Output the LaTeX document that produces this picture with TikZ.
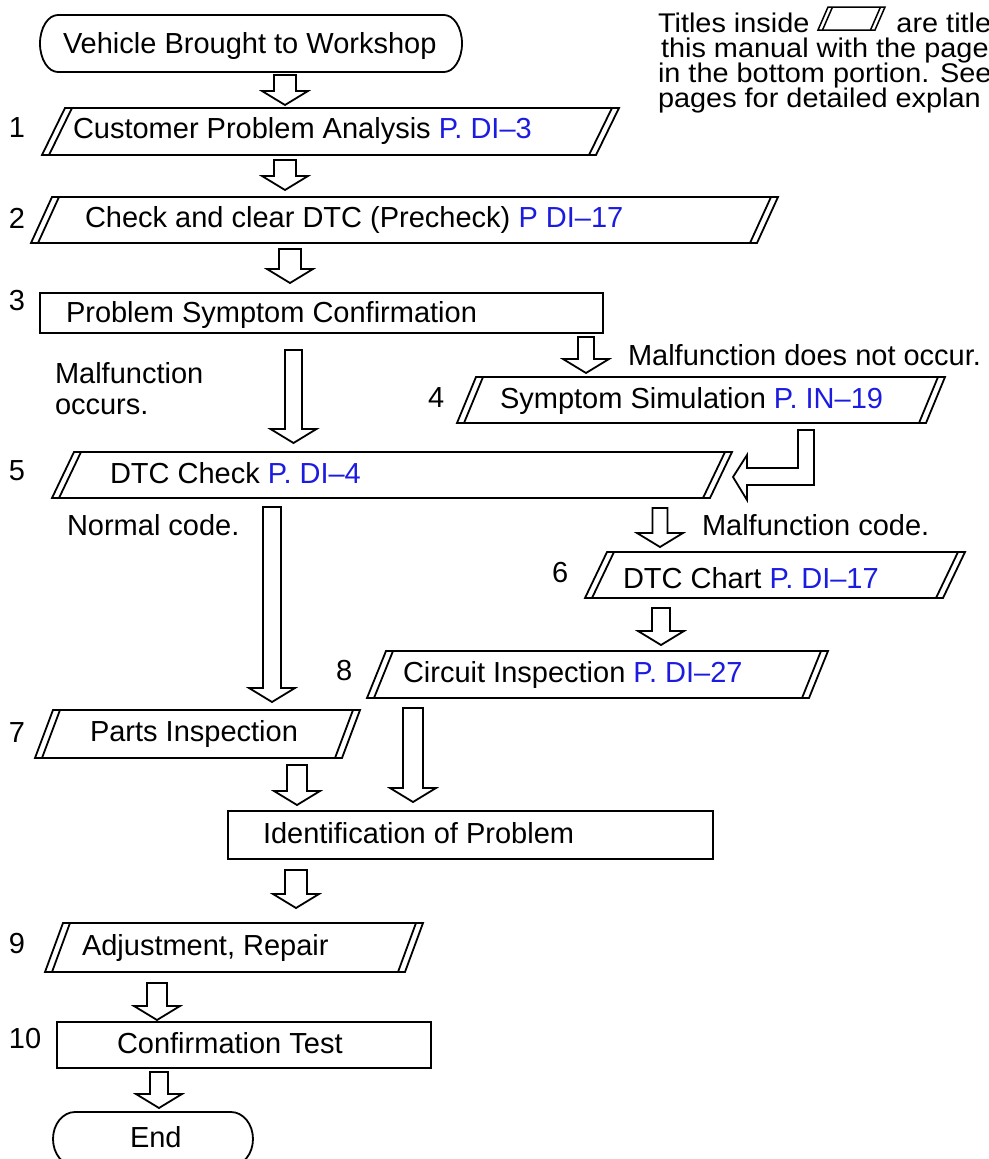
\documentclass[tikz,border=0pt]{standalone}
\usepackage{fontspec}
\setmainfont{Liberation Sans}
\newfontfamily\notefamily[FakeStretch=1.07]{Liberation Sans}
\usetikzlibrary{calc}
\definecolor{refblue}{RGB}{28,28,225}

% font for the corner note: slightly smaller, wider letters, fixed 25pt line pitch
\newcommand\notesetup{\notefamily\fontsize{27}{25}\selectfont\setlength{\lineskiplimit}{-50pt}}

\tikzset{
  outline/.style={draw=black, line width=1.8pt, line join=miter},
  frame/.style={inner sep=0pt, outer sep=0pt},
  lbl/.style={inner sep=0pt, outer sep=0pt, anchor=base west, font=\fontsize{29}{34}\selectfont},
  notetext/.style={inner sep=0pt, outer sep=0pt, anchor=north west, align=left, font={\notesetup}},
  blockarrow/.style={draw=black, line width=1.8pt, fill=white, line join=miter},
}

% parallelogram with doubled slanted sides: name, left-bottom x, right-top x, top y, bottom y, slant
\newcommand\slantbox[6]{%
  \pgfmathsetmacro\sbw{#3-#2}\pgfmathsetmacro\sbh{#5-#4}%
  \pgfmathsetmacro\sbx{(#2+#3)/2}\pgfmathsetmacro\sby{(#4+#5)/2}%
  \node[frame, minimum width=\sbw pt, minimum height=\sbh pt] (#1) at (\sbx,\sby) {};
  \draw[outline] (#1.south west) -- ([xshift=#6pt]#1.north west) -- (#1.north east)
     -- ([xshift=-#6pt]#1.south east) -- cycle;
  \draw[outline] ([xshift=7pt]#1.south west) -- ([xshift=#6pt+7pt]#1.north west);
  \draw[outline] ([xshift=-#6pt-7pt]#1.south east) -- ([xshift=-7pt]#1.north east);
}

% plain process box: name, left x, right x, top y, bottom y
\newcommand\rectbox[5]{%
  \pgfmathsetmacro\sbw{#3-#2}\pgfmathsetmacro\sbh{#5-#4}%
  \pgfmathsetmacro\sbx{(#2+#3)/2}\pgfmathsetmacro\sby{(#4+#5)/2}%
  \node[frame, outline, minimum width=\sbw pt, minimum height=\sbh pt] (#1) at (\sbx,\sby) {};
}

% terminal with elliptic ends: name, left x, right x, top y, bottom y, end radius
\newcommand\terminal[6]{%
  \pgfmathsetmacro\sbw{#3-#2}\pgfmathsetmacro\sbh{#5-#4}%
  \pgfmathsetmacro\sbx{(#2+#3)/2}\pgfmathsetmacro\sby{(#4+#5)/2}%
  \pgfmathsetmacro\sbr{(#5-#4)/2}%
  \node[frame, minimum width=\sbw pt, minimum height=\sbh pt] (#1) at (\sbx,\sby) {};
  \draw[outline] let \p1=(#1.north west), \p2=(#1.south east) in
    (\x1+#6pt,\y1) -- (\x2-#6pt,\y1)
    arc[start angle=90, end angle=-90, x radius=#6pt, y radius=\sbr pt]
    -- (\x1+#6pt,\y2)
    arc[start angle=270, end angle=90, x radius=#6pt, y radius=\sbr pt] -- cycle;
}

% hollow downward arrow: from node, to node, x, shaft half width, gap below source, gap above target
\newcommand\blockdown[6]{%
  \draw[blockarrow] let \p1=(#1.south), \p2=(#2.north) in
    (#3pt-#4pt, \y1-#5pt) -- (#3pt-#4pt, \y2+#6pt+14pt) -- (#3pt-23pt, \y2+#6pt+14pt)
    -- (#3pt, \y2+#6pt) -- (#3pt+23pt, \y2+#6pt+14pt) -- (#3pt+#4pt, \y2+#6pt+14pt)
    -- (#3pt+#4pt, \y1-#5pt) -- cycle;
}

\begin{document}
\begin{tikzpicture}[x=1pt, y=-1pt]
\useasboundingbox (0,0) rectangle (988,1159);
\clip (0,0) rectangle (988,1159);

% ---- shapes ----
\terminal{veh}{40}{462}{15}{72}{18}
\slantbox{s1}{42}{619}{108}{155}{23}
\slantbox{s2}{31}{778}{197}{243}{21}
\rectbox{s3}{40}{603}{293}{333}
\slantbox{s4}{457}{945}{377}{423}{19}
\slantbox{s5}{52}{732}{452}{498}{22}
\slantbox{s6}{585}{965}{552}{598}{22}
\slantbox{s8}{367}{828}{651}{698}{19}
\slantbox{s7}{35}{360}{710}{758}{18}
\rectbox{ident}{228}{713}{811}{859}
\slantbox{s9}{45}{423}{923}{972}{18}
\rectbox{s10}{57}{431}{1022}{1068}
\terminal{fin}{53}{253}{1112}{1166}{22}

% ---- texts ----
\node[lbl] (tveh) at (63,53) {Vehicle Brought to Workshop};
\node[lbl] (n1) at (9,137) {1};
\node[lbl] (t1) at (73,138) {Customer Problem Analysis \textcolor{refblue}{P. DI–3}};
\node[lbl] (n2) at (9,228) {2};
\node[lbl] (t2) at (85,227) {Check and clear DTC (Precheck) \textcolor{refblue}{P DI–17}};
\node[lbl] (n3) at (9,310) {3};
\node[lbl] (t3) at (66,322) {Problem Symptom Confirmation};
\node[lbl] (occa) at (55,383) {Malfunction};
\node[lbl] (occb) at (55,414) {occurs.};
\node[lbl] (nocc) at (628,365) {Malfunction does not occur.};
\node[lbl] (n4) at (428,407) {4};
\node[lbl] (t4) at (500,408) {Symptom Simulation \textcolor{refblue}{P. IN–19}};
\node[lbl] (n5) at (9,480) {5};
\node[lbl] (t5) at (110,483) {DTC Check \textcolor{refblue}{P. DI–4}};
\node[lbl] (normal) at (67,535) {Normal code.};
\node[lbl] (malcode) at (702,535) {Malfunction code.};
\node[lbl] (n6) at (552,582) {6};
\node[lbl] (t6) at (623,588) {DTC Chart \textcolor{refblue}{P. DI–17}};
\node[lbl] (n8) at (336,680) {8};
\node[lbl] (t8) at (403,682) {Circuit Inspection \textcolor{refblue}{P. DI–27}};
\node[lbl] (n7) at (9,742) {7};
\node[lbl] (t7) at (90,741) {Parts Inspection};
\node[lbl] (tid) at (263,843) {Identification of Problem};
\node[lbl] (n9) at (9,953) {9};
\node[lbl] (t9) at (82,955) {Adjustment, Repair};
\node[lbl] (n10) at (9,1048) {10};
\node[lbl] (t10) at (117,1053) {Confirmation Test};
\node[lbl] (tfin) at (130,1147) {End};

% ---- note in the upper right corner, with the title symbol set into its first line ----
\node[notetext] (note) at (658,12.5)
  {Titles inside\hspace{87pt}are title\\
   \hspace*{3pt}this manual with the page\\
   in the bottom portion. See\\
   pages for detailed explan};
\draw[outline, line width=1.5pt] (818,30) -- (828,7) -- (885,7) -- (875,30) -- cycle;
\draw[outline, line width=1.5pt] (822.5,30) -- (832.5,7);
\draw[outline, line width=1.5pt] (870.5,30) -- (880.5,7);

% ---- hollow arrows ----
\blockdown{veh}{s1}{285}{11}{3}{3}
\blockdown{s1}{s2}{285}{11}{5}{7}
\blockdown{s2}{s3}{290}{11}{6}{10}
\blockdown{s3}{s4}{586}{8}{4}{4}
\blockdown{s3}{s5}{293.5}{8.5}{17}{9}
\blockdown{s5}{s6}{660}{7.5}{10}{5}
\blockdown{s5}{s7}{272}{9}{9}{8}
\blockdown{s6}{s8}{661}{9}{10}{6}
\blockdown{s8}{ident}{413}{10}{10}{9}
\blockdown{s7}{ident}{297}{10}{7}{6}
\blockdown{ident}{s9}{296}{11}{11}{15}
\blockdown{s9}{s10}{157}{10}{11}{2}
\blockdown{s10}{fin}{159}{9}{4}{4}

% bent arrow from symptom simulation back into the DTC check
\draw[blockarrow] let \p1=(s4.south), \p2=(s5.east) in
  (798pt, \y1-7pt) -- (798pt, \y2+7pt) -- (\x2+15pt, \y2+7pt) -- (\x2+15pt, \y2+20pt)
  -- (\x2+1pt, \y2-2pt) -- (\x2+15pt, \y2-25pt) -- (\x2+15pt, \y2-10pt)
  -- (814pt, \y2-10pt) -- (814pt, \y1-7pt) -- cycle;
\end{tikzpicture}
\end{document}
